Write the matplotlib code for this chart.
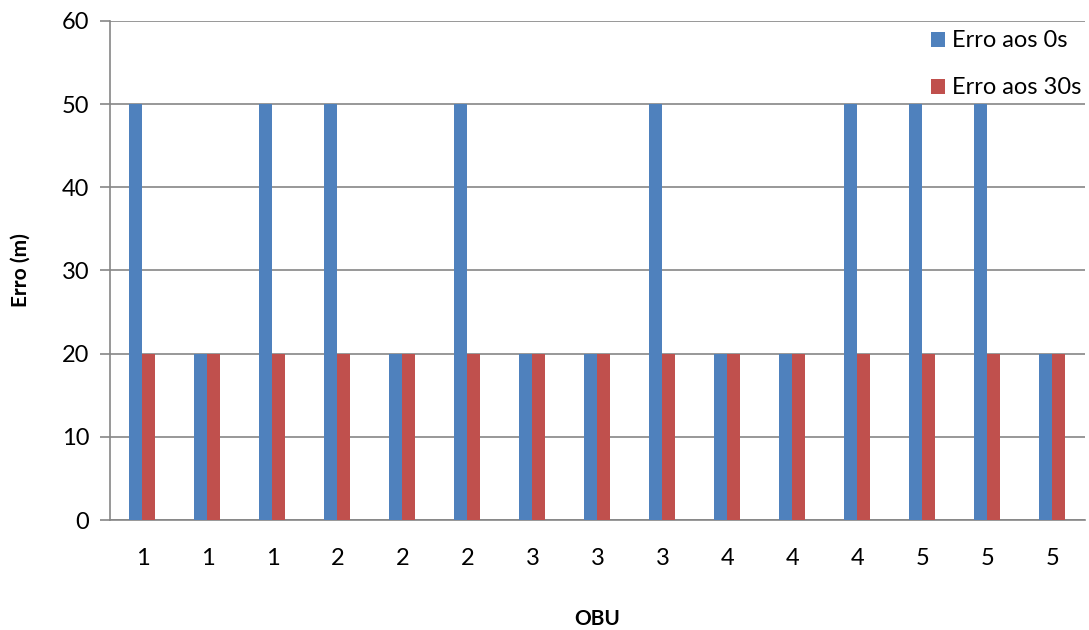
import matplotlib
matplotlib.use("Agg")
import matplotlib.pyplot as plt
import numpy as np

plt.rcParams["font.family"] = ["Lato", "DejaVu Sans"]

OBU_LABELS = ["1", "1", "1", "2", "2", "2", "3", "3", "3", "4", "4", "4", "5", "5", "5"]
ERRO_0S = [50, 20, 50, 50, 20, 50, 20, 20, 50, 20, 20, 50, 50, 50, 20]
ERRO_30S = [20, 20, 20, 20, 20, 20, 20, 20, 20, 20, 20, 20, 20, 20, 20]
Y_TICKS = [0, 10, 20, 30, 40, 50, 60]

BLUE = "#4F81BD"
RED = "#C0504D"
GRID = "#868686"

fig = plt.figure(figsize=(10.89, 6.3), dpi=100)
ax = fig.add_axes([0.101, 0.1746, 0.8953, 0.7921])

x = np.arange(len(OBU_LABELS))
w = 0.2
ax.bar(x - w / 2, ERRO_0S, w, color=BLUE, label="Erro aos 0s", zorder=3)
ax.bar(x + w / 2, ERRO_30S, w, color=RED, label="Erro aos 30s", zorder=3)

ax.set_xlim(-0.5, len(OBU_LABELS) - 0.5)
ax.set_ylim(0, 60)
ax.set_yticks(Y_TICKS)
ax.set_xticks(x)
ax.set_xticklabels(OBU_LABELS)
ax.yaxis.grid(True, color=GRID, linewidth=1.2, zorder=0)
ax.tick_params(axis="x", length=0, pad=20, labelsize=17)
ax.tick_params(axis="y", length=7, width=1.2, color=GRID, pad=8, labelsize=17)

for side in ["top", "right"]:
    ax.spines[side].set_visible(False)
for side in ["left", "bottom"]:
    ax.spines[side].set_color(GRID)
    ax.spines[side].set_linewidth(1.2)

ax.set_xlabel("OBU", fontsize=15, fontweight="bold", labelpad=29)
ax.set_ylabel("Erro (m)", fontsize=15, fontweight="bold", labelpad=22)

ax.legend(
    loc="upper left",
    bbox_to_anchor=(0.832, 1.0),
    frameon=False,
    fontsize=17,
    handlelength=0.6,
    handleheight=0.6,
    handletextpad=0.3,
    labelspacing=1.1,
    borderaxespad=0,
)

fig.savefig("out.png", dpi=100)
